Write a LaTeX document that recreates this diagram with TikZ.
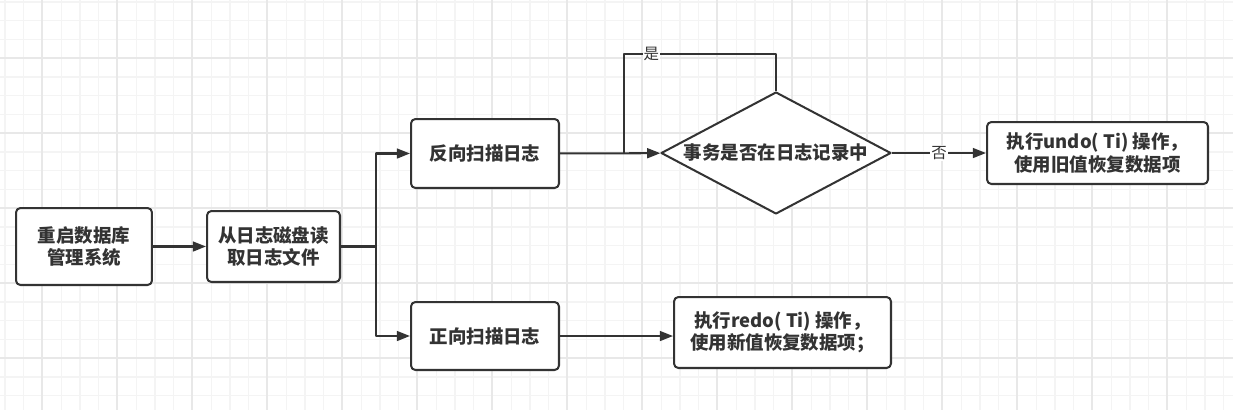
\documentclass[tikz,border=0pt]{standalone}
\usepackage{fontspec}
\setmainfont{Noto Sans CJK SC}
\usepackage{tikz}
\usetikzlibrary{arrows.meta,calc,positioning,shapes.geometric}

\definecolor{ink}{HTML}{333333}
\definecolor{gridminor}{HTML}{F4F4F4}
\definecolor{gridmajor}{HTML}{E8E8E8}

\begin{document}
\begin{tikzpicture}[x=0.02cm,y=-0.02cm,line join=round,
    font=\fontsize{10.5}{12.8}\selectfont\bfseries,
    >={Triangle[length=7.5pt,width=5.6pt]},
    flow/.style={draw=ink,line width=1.15pt},
    box/.style={rectangle,rounded corners=2.5pt,draw=ink,line width=1.15pt,
      fill=white,text=ink,align=center,inner sep=2pt},
    decide/.style={diamond,draw=ink,line width=1.15pt,fill=white,text=ink,
      aspect=1.885,inner sep=0pt,minimum width=4.6cm,minimum height=2.44cm},
    lbl/.style={fill=white,text=ink,inner sep=0.5pt,
      font=\fontsize{8.8}{10}\selectfont}]
  % ---- canvas and background grid ----------------------------------------
  \useasboundingbox (0,0) rectangle (1233,410);
  \fill[white] (0,0) rectangle (1233,410);
  \foreach \k in {0,...,65}
    \draw[gridminor,line width=0.6pt] ({5+18.75*\k},0) -- ++(0,410);
  \foreach \k in {0,...,21}
    \draw[gridminor,line width=0.6pt] (0,{2+18.75*\k}) -- ++(1233,0);
  \foreach \k in {0,...,15}
    \draw[gridmajor,line width=0.6pt] ({42+75*\k},0) -- ++(0,410);
  \foreach \k in {0,...,4}
    \draw[gridmajor,line width=0.6pt] (0,{58+75*\k}) -- ++(1233,0);

  % ---- steps -------------------------------------------------------------
  \node[box,minimum width=2.72cm,minimum height=1.54cm] (restart) at (84,246.5)
       {重启数据库\\管理系统};
  \node[box,minimum width=2.66cm,minimum height=1.42cm] (readlog) at (273.5,246.5)
       {从日志磁盘读\\取日志文件};
  \node[box,minimum width=2.96cm,minimum height=1.38cm] (backscan) at (485,153.5)
       {反向扫描日志};
  \node[box,minimum width=2.96cm,minimum height=1.36cm] (fwdscan) at (485,336)
       {正向扫描日志};
  \node[decide] (inlog) at (776,153) {事务是否在日志记录中};
  \node[box,minimum width=4.42cm,minimum height=1.24cm] (undo) at (1097.5,153)
       {执行undo( Ti) 操作，\\ 使用旧值恢复数据项};
  \node[box,minimum width=4.34cm,minimum height=1.42cm] (redo) at (782.5,332.5)
       {执行redo( Ti) 操作，\\使用新值恢复数据项；};

  % ---- connectors --------------------------------------------------------
  \coordinate (split) at (376,246.5);
  \coordinate (join)  at (624,153);
  \coordinate (looptop) at (624,54);
  \draw[flow,->] (restart) -- (readlog);
  \draw[flow] (readlog) -- (split);
  \draw[flow,->] (split) |- (backscan);
  \draw[flow,->] (split) |- (fwdscan);
  \draw[flow,->] (backscan) -- (inlog);
  \draw[flow] (inlog.north) |- node[lbl,pos=0.91] {是} (looptop) -- (join);
  \draw[flow,->] (inlog) -- node[lbl] {否} (undo);
  \draw[flow,->] (fwdscan.east) -- (fwdscan.east -| redo.west);
\end{tikzpicture}
\end{document}
